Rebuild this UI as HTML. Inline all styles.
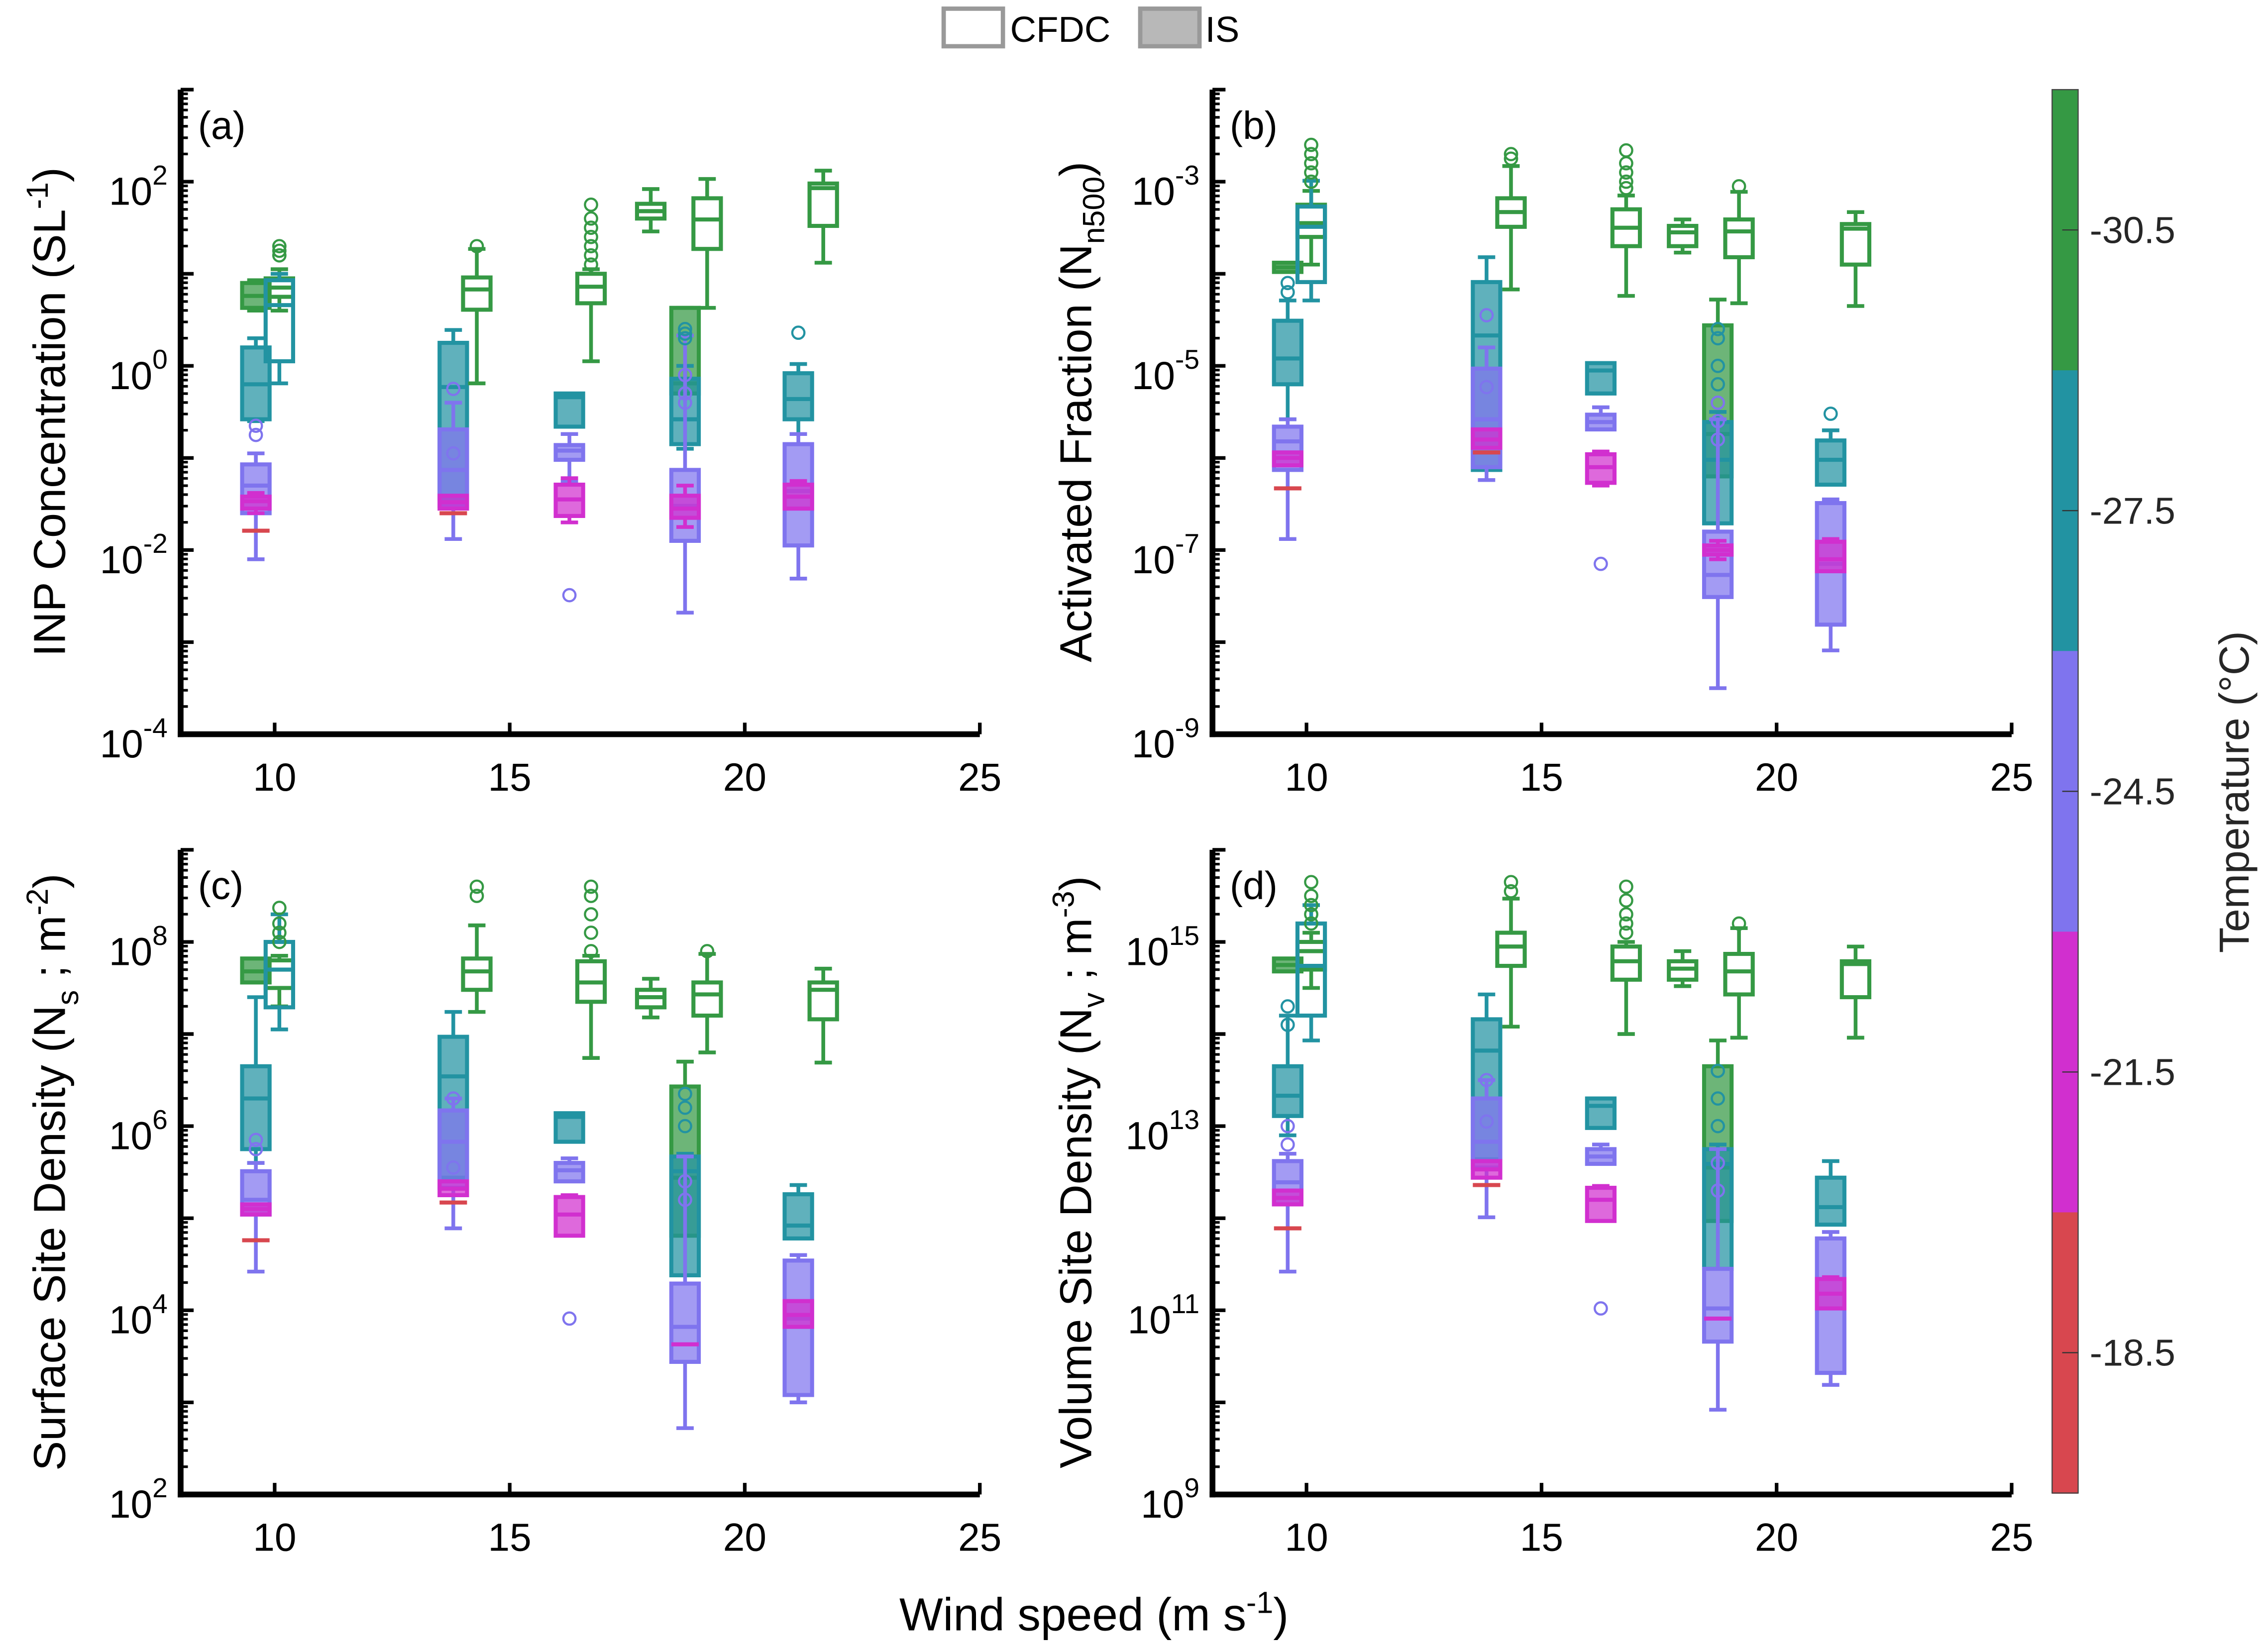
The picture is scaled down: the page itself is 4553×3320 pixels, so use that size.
<!DOCTYPE html>
<html><head><meta charset="utf-8">
<style>
html,body{margin:0;padding:0;background:#fff;}
svg{display:block;font-family:"Liberation Sans",Arial,sans-serif;}
</style></head>
<body>
<svg id="fig" xmlns="http://www.w3.org/2000/svg" width="4553" height="3320" viewBox="0 0 1568 1143" preserveAspectRatio="none">
<rect x="0" y="0" width="1568" height="1143" fill="#fff"/>
<g id="legend">
  <g>
    <rect x="653" y="6" width="41" height="26" fill="#fff" stroke="#999" stroke-width="3"/>
    <text x="699" y="29" font-size="25">CFDC</text>
  </g>
  <g>
    <rect x="789" y="6" width="41" height="26" fill="#b8b8b8" stroke="#999" stroke-width="3"/>
    <text x="834" y="29" font-size="25">IS</text>
  </g>
</g>
<g id="plots"></g>
<g id="cbar"></g>
<text x="757" y="1128" font-size="32" text-anchor="middle">Wind speed (m s<tspan dy="-12" font-size="21">-1</tspan><tspan dy="12">)</tspan></text>
</svg>
<script>
// Values are log10 of the quantity. Row: [windSpeed, tempCategory, type, whiskerLow, q1, median, q3, whiskerHigh]
const categories = ['green','teal','purple','magenta','red'];
const catColors = {green:'#359944',teal:'#2293a2',purple:'#7f74ee',magenta:'#d12fcf',red:'#d8474f'};
const tempTickLabels = ['-30.5','-27.5','-24.5','-21.5','-18.5'];
const xTickValues = [10,15,20,25];

const boxesA = [
 [10.1,'green','C',0.6,0.75,0.85,0.95,1.05],
 [9.6,'green','I',0.60,0.63,0.76,0.90,0.93],
 [10.1,'teal','C',-0.19,0.05,0.66,0.93,1.0],
 [9.6,'teal','I',-0.6,-0.58,-0.2,0.2,0.3],
 [9.6,'purple','I',-2.1,-1.6,-1.3,-1.07,-0.95],
 [9.6,'magenta','I',-1.6,-1.55,-1.47,-1.42,-1.38],
 [9.6,'red','I',-1.79,-1.79,-1.79,-1.79,-1.79],
 [13.8,'teal','I',-1.5,-1.44,-0.23,0.25,0.39],
 [13.8,'purple','I',-1.88,-1.52,-1.13,-0.69,-0.4],
 [13.8,'magenta','I',-1.55,-1.55,-1.48,-1.41,-1.41],
 [13.8,'red','I',-1.6,-1.6,-1.6,-1.6,-1.6],
 [14.3,'green','C',-0.19,0.61,0.83,0.96,1.27],
 [16.27,'teal','I',-0.66,-0.66,-0.34,-0.3,-0.3],
 [16.27,'purple','I',-1.25,-1.02,-0.92,-0.86,-0.74],
 [16.27,'magenta','I',-1.7,-1.63,-1.45,-1.29,-1.22],
 [16.73,'green','C',0.05,0.68,0.86,1.0,1.05],
 [18.0,'green','C',1.46,1.6,1.68,1.76,1.92],
 [18.73,'green','I',-0.3,-0.3,-0.19,0.63,0.63],
 [18.73,'teal','I',-0.9,-0.85,-0.58,-0.14,0.0],
 [18.73,'purple','I',-2.68,-1.9,-1.52,-1.13,0.33],
 [18.73,'magenta','I',-1.75,-1.65,-1.55,-1.41,-1.3],
 [19.2,'green','C',0.63,1.27,1.59,1.82,2.03],
 [21.14,'teal','I',-0.74,-0.58,-0.36,-0.08,0.02],
 [21.14,'purple','I',-2.31,-1.95,-1.36,-0.85,-0.74],
 [21.14,'magenta','I',-1.55,-1.55,-1.42,-1.29,-1.25],
 [21.67,'green','C',1.12,1.52,1.93,1.98,2.12]
];
const outliersA = [
 [10.1,'green',[1.2,1.25,1.3]],[9.6,'purple',[-0.65,-0.75]],[13.8,'purple',[-0.25,-0.95]],
 [14.3,'green',[1.3]],[16.27,'purple',[-2.49]],[16.73,'green',[1.1,1.2,1.3,1.4,1.5,1.6,1.75]],
 [18.73,'teal',[0.3,0.35,0.4]],[18.73,'purple',[-0.1,-0.3,-0.4]],[21.14,'teal',[0.36]]
];
const boxesB = [
 [10.1,'green','C',-3.9,-3.6,-3.45,-3.25,-3.1],
 [9.6,'green','I',-3.98,-3.98,-3.93,-3.88,-3.88],
 [10.1,'teal','C',-4.29,-4.09,-3.49,-3.27,-2.99],
 [9.6,'teal','I',-5.58,-5.2,-4.92,-4.51,-4.29],
 [9.6,'purple','I',-6.88,-6.13,-5.82,-5.66,-5.58],
 [9.6,'magenta','I',-6.08,-6.08,-6.0,-5.94,-5.94],
 [9.6,'red','I',-6.33,-6.33,-6.33,-6.33,-6.33],
 [13.83,'teal','I',-6.13,-6.13,-4.67,-4.09,-3.82],
 [13.83,'purple','I',-6.24,-6.1,-5.58,-5.03,-4.8],
 [13.83,'magenta','I',-5.89,-5.89,-5.8,-5.69,-5.69],
 [13.83,'red','I',-5.94,-5.94,-5.94,-5.94,-5.94],
 [14.35,'green','C',-4.17,-3.49,-3.33,-3.18,-2.83],
 [16.26,'teal','I',-5.3,-5.3,-5.05,-4.97,-4.97],
 [16.26,'purple','I',-5.69,-5.69,-5.61,-5.53,-5.45],
 [16.26,'magenta','I',-6.3,-6.27,-6.1,-5.96,-5.93],
 [16.8,'green','C',-4.24,-3.7,-3.5,-3.3,-3.15],
 [18.0,'green','C',-3.77,-3.7,-3.55,-3.48,-3.41],
 [18.75,'green','I',-6.2,-6.2,-5.74,-4.56,-4.28],
 [18.75,'teal','I',-6.71,-6.71,-6.02,-5.61,-5.5],
 [18.75,'purple','I',-8.5,-7.51,-7.27,-6.8,-5.58],
 [18.75,'magenta','I',-7.1,-7.05,-7.0,-6.95,-6.9],
 [19.2,'green','C',-4.32,-3.82,-3.54,-3.41,-3.11],
 [21.15,'teal','I',-6.29,-6.29,-6.02,-5.81,-5.7],
 [21.15,'purple','I',-8.09,-7.81,-7.15,-6.49,-6.45],
 [21.15,'magenta','I',-7.23,-7.23,-7.1,-6.91,-6.88],
 [21.68,'green','C',-4.35,-3.9,-3.51,-3.46,-3.33]
];
const outliersB = [
 [10.1,'green',[-2.6,-2.7,-2.8,-2.9,-3.0]],[9.6,'teal',[-4.1,-4.2]],[13.83,'purple',[-4.45,-5.23]],
 [14.35,'green',[-2.7,-2.75]],[16.26,'purple',[-7.15]],[16.8,'green',[-2.66,-2.8,-2.9,-3.0,-3.07]],
 [18.75,'teal',[-4.6,-4.7,-5.0,-5.2]],[18.75,'purple',[-5.4,-5.6,-5.8]],[19.2,'green',[-3.05]],[21.15,'teal',[-5.52]]
];
const boxesC = [
 [10.1,'green','C',7.3,7.5,7.7,7.8,7.85],
 [9.6,'green','I',7.56,7.56,7.68,7.82,7.82],
 [10.1,'teal','C',7.05,7.29,7.7,8.0,8.3],
 [9.6,'teal','I',5.6,5.75,6.3,6.65,7.4],
 [9.6,'purple','I',4.42,5.04,5.2,5.51,5.6],
 [9.6,'magenta','I',5.04,5.04,5.1,5.15,5.15],
 [9.6,'red','I',4.76,4.76,4.76,4.76,4.76],
 [13.8,'teal','I',5.44,5.44,6.54,6.97,7.24],
 [13.8,'purple','I',4.89,5.33,5.83,6.17,6.3],
 [13.8,'magenta','I',5.25,5.25,5.32,5.4,5.4],
 [13.8,'red','I',5.17,5.17,5.17,5.17,5.17],
 [14.3,'green','C',7.24,7.48,7.68,7.82,8.18],
 [16.27,'teal','I',5.83,5.83,6.1,6.14,6.14],
 [16.27,'purple','I',5.4,5.4,5.52,5.6,5.65],
 [16.27,'magenta','I',4.81,4.81,5.04,5.23,5.25],
 [16.73,'green','C',6.74,7.35,7.56,7.79,7.85],
 [18.0,'green','C',7.18,7.29,7.4,7.48,7.6],
 [18.73,'green','I',4.81,4.81,5.44,6.43,6.7],
 [18.73,'teal','I',4.38,4.38,5.51,5.67,5.7],
 [18.73,'purple','I',2.72,3.44,3.82,4.29,5.67],
 [18.73,'magenta','I',3.63,3.63,3.63,3.63,3.63],
 [19.2,'green','C',6.8,7.2,7.43,7.56,7.87],
 [21.14,'teal','I',4.78,4.78,4.92,5.26,5.36],
 [21.14,'purple','I',3.0,3.08,3.91,4.54,4.6],
 [21.14,'magenta','I',3.82,3.82,3.95,4.1,4.1],
 [21.67,'green','C',6.69,7.16,7.48,7.56,7.71]
];
const outliersC = [
 [10.1,'green',[8.0,8.1,8.2,8.37]],[9.6,'purple',[5.75,5.85]],[13.8,'purple',[6.3,5.55]],
 [14.3,'green',[8.5,8.6]],[16.27,'purple',[3.91]],[16.73,'green',[7.9,8.1,8.3,8.5,8.6]],
 [18.73,'teal',[6.0,6.2,6.35]],[18.73,'purple',[5.2,5.4]],[19.2,'green',[7.9]]
];
const boxesD = [
 [10.1,'green','C',14.5,14.7,14.9,15.0,15.1],
 [9.6,'green','I',14.68,14.68,14.75,14.82,14.82],
 [10.1,'teal','C',13.93,14.2,14.74,15.2,15.4],
 [9.6,'teal','I',12.9,13.11,13.33,13.65,14.2],
 [9.6,'purple','I',11.42,12.15,12.39,12.62,12.7],
 [9.6,'magenta','I',12.15,12.15,12.22,12.3,12.3],
 [9.6,'red','I',11.89,11.89,11.89,11.89,11.89],
 [13.83,'teal','I',12.64,12.64,13.82,14.16,14.43],
 [13.83,'purple','I',12.01,12.55,12.83,13.3,13.5],
 [13.83,'magenta','I',12.44,12.44,12.53,12.62,12.62],
 [13.83,'red','I',12.36,12.36,12.36,12.36,12.36],
 [14.35,'green','C',14.08,14.74,14.95,15.1,15.47],
 [16.26,'teal','I',12.98,12.98,13.22,13.3,13.3],
 [16.26,'purple','I',12.59,12.59,12.67,12.75,12.8],
 [16.26,'magenta','I',11.97,11.97,12.2,12.33,12.35],
 [16.8,'green','C',14.0,14.59,14.79,14.95,15.0],
 [18.0,'green','C',14.52,14.59,14.71,14.79,14.9],
 [18.75,'green','I',11.97,11.97,12.55,13.65,13.93],
 [18.75,'teal','I',11.45,11.45,12.59,12.75,12.8],
 [18.75,'purple','I',9.92,10.66,11.02,11.45,12.75],
 [18.75,'magenta','I',10.91,10.91,10.91,10.91,10.91],
 [19.2,'green','C',13.96,14.43,14.68,14.87,15.15],
 [21.15,'teal','I',11.93,11.93,12.12,12.44,12.62],
 [21.15,'purple','I',10.19,10.32,11.18,11.78,11.85],
 [21.15,'magenta','I',11.02,11.02,11.18,11.34,11.36],
 [21.68,'green','C',13.96,14.4,14.76,14.79,14.95]
];
const outliersD = [
 [10.1,'green',[15.2,15.3,15.4,15.5,15.65]],[9.6,'teal',[14.1,14.3]],[9.6,'purple',[12.8,13.0]],
 [13.83,'purple',[13.5,13.05]],[14.35,'green',[15.55,15.65]],[16.26,'purple',[11.02]],
 [16.8,'green',[15.1,15.2,15.3,15.45,15.6]],[18.75,'teal',[13.0,13.3,13.6]],[18.75,'purple',[12.3,12.6]],[19.2,'green',[15.2]]
];
const yTicksA = [-4,-2,0,2], yTicksB = [-9,-7,-5,-3], yTicksC = [2,4,6,8], yTicksD = [9,11,13,15];

const NS='http://www.w3.org/2000/svg';
function mk(tag, attrs, parent){const e=document.createElementNS(NS,tag);for(const k in attrs)e.setAttribute(k,attrs[k]);if(parent)parent.appendChild(e);return e;}

const panels = [
 {id:'a',label:'(a)',x0:125,x1:678,top:62,bot:508,lmin:-4,lmax:3,boxes:boxesA,outs:outliersA,ticks:yTicksA,title:['INP Concentration (SL','-1',')'],tx:35},
 {id:'b',label:'(b)',x0:839,x1:1392,top:62,bot:508,lmin:-9,lmax:-2,boxes:boxesB,outs:outliersB,ticks:yTicksB,title:['Activated Fraction (N','n500',')'],tx:745,sub:true},
 {id:'c',label:'(c)',x0:125,x1:678,top:588,bot:1034,lmin:2,lmax:9,boxes:boxesC,outs:outliersC,ticks:yTicksC,title:['Surface Site Density (N','s','; m','-2',')'],tx:35},
 {id:'d',label:'(d)',x0:839,x1:1392,top:588,bot:1034,lmin:9,lmax:16,boxes:boxesD,outs:outliersD,ticks:yTicksD,title:['Volume Site Density (N','v','; m','-3',')'],tx:745}
];
const root=document.getElementById('plots');
panels.forEach(p=>{
  const g=mk('g',{},root);
  
  
  const xs=v=>p.x0+(v-8)*(p.x1-p.x0)/(25-8);
  const ys=l=>p.bot-(l-p.lmin)*(p.bot-p.top)/(p.lmax-p.lmin);
  const bg=mk('g',{},g);
  
  
  const hw=9.5;
  p.boxes.forEach(b=>{
    const [ws,cat,type,lo,q1,med,q3,hi]=b;
    const col=catColors[cat], cx=xs(ws);
    const bx=mk('g',{},bg);
    
    
    mk('line',{x1:cx,x2:cx,y1:ys(hi),y2:ys(q3),stroke:col,'stroke-width':2.6},bx);
    mk('line',{x1:cx,x2:cx,y1:ys(q1),y2:ys(lo),stroke:col,'stroke-width':2.6},bx);
    mk('line',{x1:cx-6,x2:cx+6,y1:ys(hi),y2:ys(hi),stroke:col,'stroke-width':2.6},bx);
    mk('line',{x1:cx-6,x2:cx+6,y1:ys(lo),y2:ys(lo),stroke:col,'stroke-width':2.6},bx);
    const h=Math.max(ys(q1)-ys(q3),0.5);
    if(q3>q1) mk('rect',{x:cx-hw,y:ys(q3),width:2*hw,height:h,fill:type==='I'?col:'none','fill-opacity':0.72,stroke:col,'stroke-width':2.8},bx);
    mk('line',{x1:cx-hw,x2:cx+hw,y1:ys(med),y2:ys(med),stroke:col,'stroke-width':2.8},bx);
  });
  p.outs.forEach(o=>{
    const [ws,cat,vals]=o;
    vals.forEach(v=>{
      const c=mk('circle',{cx:xs(ws),cy:ys(v),r:4.2,fill:'none',stroke:catColors[cat],'stroke-width':1.5},bg);
      
      
    });
  });
  const ax=mk('g',{},g);
  
  
  mk('line',{x1:p.x0,x2:p.x0,y1:p.top,y2:p.bot+2,stroke:'#000','stroke-width':4},ax);
  for(let d=p.lmin; d<p.lmax; d++){
    for(let m=2;m<=9;m++){const y=ys(d+Math.log10(m));mk('line',{x1:p.x0,x2:p.x0+5,y1:y,y2:y,stroke:'#000','stroke-width':1.8},ax);}
  }
  for(let d=p.lmin; d<=p.lmax; d++){const y=ys(d);mk('line',{x1:p.x0,x2:p.x0+9,y1:y,y2:y,stroke:'#000','stroke-width':2.5},ax);}
  p.ticks.forEach(t=>{
    const y=ys(t);
    const tx=mk('text',{x:p.x0-9,y:y+16,'font-size':27,'text-anchor':'end'},ax);
    
    
    tx.appendChild(document.createTextNode('10'));
    const s=mk('tspan',{dy:-14,'font-size':19},tx); s.textContent=String(t);
  });
  const xa=mk('g',{},g);
  
  
  mk('line',{x1:p.x0-2,x2:p.x1,y1:p.bot,y2:p.bot,stroke:'#000','stroke-width':4},xa);
  xTickValues.forEach(v=>{
    const x=xs(v);
    mk('line',{x1:x,x2:x,y1:p.bot,y2:p.bot-8,stroke:'#000','stroke-width':2.5},xa);
    const t=mk('text',{x:x,y:p.bot+39,'font-size':27,'text-anchor':'middle'},xa);
    
    
    t.textContent=String(v);
  });
  const lb=mk('text',{x:p.x0+12,y:p.top+34,'font-size':27},g);
  
  
  lb.textContent=p.label;
  const cy=(p.top+p.bot)/2;
  const tt=mk('text',{x:0,y:0,'font-size':31,'text-anchor':'middle',transform:`translate(${p.tx+10},${cy}) rotate(-90)`},g);
  
  
  const parts=p.title;
  tt.appendChild(document.createTextNode(parts[0]));
  if(parts.length===3){
    const isSub = p.sub===true;
    const s=mk('tspan',{dy:isSub?9:-12,'font-size':21},tt); s.textContent=parts[1];
    const e=mk('tspan',{dy:isSub?-9:12},tt); e.textContent=parts[2];
  } else {
    const s=mk('tspan',{dy:9,'font-size':21},tt); s.textContent=parts[1];
    const m=mk('tspan',{dy:-9},tt); m.textContent=' '+parts[2];
    const s2=mk('tspan',{dy:-12,'font-size':21},tt); s2.textContent=parts[3];
    const e=mk('tspan',{dy:12},tt); e.textContent=parts[4];
  }
});
const cb=document.getElementById('cbar');
const cbTop=62,cbBot=1033,cbX=1420,cbW=18,n=categories.length,seg=(cbBot-cbTop)/n;
categories.forEach((c,i)=>{
  const r=mk('rect',{x:cbX,y:cbTop+i*seg,width:cbW,height:seg+0.5,fill:catColors[c]},cb);
  
  
});
mk('rect',{x:cbX,y:cbTop,width:cbW,height:cbBot-cbTop,fill:'none',stroke:'#444','stroke-width':0.8},cb);
tempTickLabels.forEach((t,i)=>{
  const y=cbTop+(i+0.5)*seg;
  mk('line',{x1:cbX+7,x2:cbX+cbW,y1:y,y2:y,stroke:'#333','stroke-width':0.8},cb);
  const tx=mk('text',{x:1446,y:y+9,'font-size':26,fill:'#262626'},cb);
  
  
  tx.textContent=t;
});
const ct=mk('text',{x:0,y:0,'font-size':29,'text-anchor':'middle',transform:'translate(1556,548) rotate(-90)',fill:'#262626'},cb);


ct.textContent='Temperature (°C)';
</script>
</body></html>
